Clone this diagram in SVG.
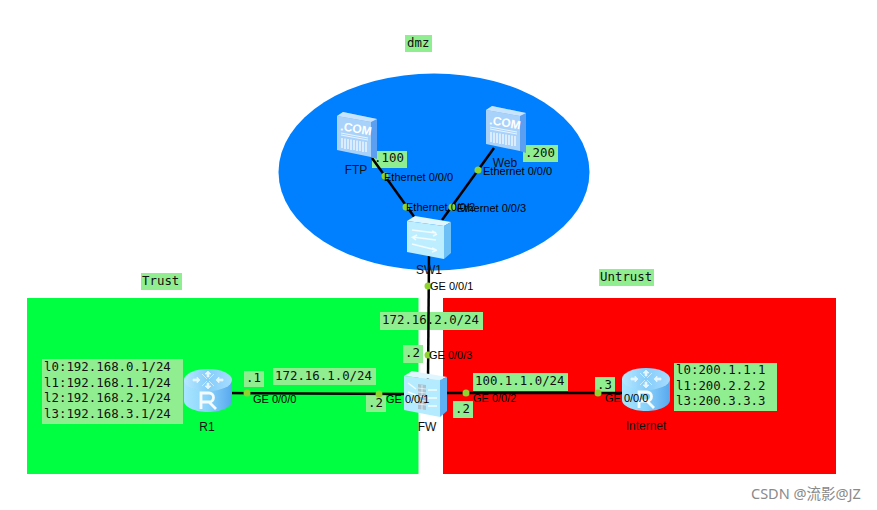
<svg xmlns="http://www.w3.org/2000/svg" width="877" height="510" viewBox="0 0 877 510">
<style>
.lb{fill:#90ee90}
.m{font-family:"DejaVu Sans Mono","Liberation Mono",monospace;font-size:12.400px;fill:#111}
.t{font-family:"Liberation Sans",Arial,sans-serif;font-size:11px;fill:#000}
.n{font-family:"Liberation Sans",Arial,sans-serif;font-size:12px;fill:#111;text-anchor:middle}
.c{stroke:#000;stroke-width:2.500;fill:none}
.d{fill:#8fd32f}
</style>
<defs>
<linearGradient id="rt" x1="0" y1="0" x2="1" y2="0"><stop offset="0" stop-color="#b8e8ff"/><stop offset=".5" stop-color="#86cdfb"/><stop offset="1" stop-color="#a6dcff"/></linearGradient>
<linearGradient id="rb" x1="0" y1="0" x2="1" y2="0"><stop offset="0" stop-color="#a8e6ff"/><stop offset=".5" stop-color="#8ad2fb"/><stop offset="1" stop-color="#58a8ee"/></linearGradient>
<g id="router">
<path d="M0 11V32C0 38 11 43 24 43S48 38 48 32V11Z" fill="url(#rb)"/>
<ellipse cx="24" cy="11" rx="24" ry="11" fill="url(#rt)"/>
<path d="M24 2l-3 3h2v3h2V5h2ZM24 20l-3-3h2v-3h2v3h2ZM13 8l3 3-3 3v-2H9v-2h4ZM35 8l-3 3 3 3v-2h4v-2h-4ZM18 5l5 5M30 5l-5 5M18 17l5-5M30 17l-5-5" fill="#e6f6ff" stroke="#e6f6ff" stroke-width=".7"/>
<path d="M17 40V24h8a4.500 4.500 0 0 1 0 9H17M25 33l7 7" stroke="#f4fbff" stroke-width="2.800" fill="none"/>
</g>
<g id="server">
<path d="M0 4L6 0L40 7V47L34 45Z" fill="#5a9ff2"/>
<path d="M0 4L34 10V45L0 38Z" fill="#a9d2fb"/>
<path d="M0 4L6 0L40 7L34 10Z" fill="#c8e4fd"/>
<path d="M4 21L31 26M4 23L31 28" stroke="#eaf5ff" stroke-width="1"/>
<path d="M5 26V36M8 26.500V37M11 27V37M14 27.500V38M17 28V38M20 28.500V39M23 29V39M26 29.500V40M29 30V40" stroke="#eaf5ff" stroke-width="1.500"/>
<text x="3" y="18" transform="rotate(10 3 18)" font-family="Liberation Sans,sans-serif" font-size="12" font-weight="700" fill="#fff">.COM</text>
</g>
</defs>
<rect width="877" height="510" fill="#fff"/>
<ellipse cx="434" cy="172" rx="155.500" ry="98.500" fill="#0080ff"/>
<rect x="27" y="298" width="391.500" height="176" fill="#00ff40"/>
<rect x="443" y="298" width="393" height="176" fill="#ff0000"/>

<g id="zone-labels">
<rect class="lb" x="405" y="35" width="27" height="17"/><text class="m" x="407" y="47">dmz</text>
<rect class="lb" x="141" y="273" width="41" height="17"/><text class="m" x="142" y="285">Trust</text>
<rect class="lb" x="599" y="269" width="55" height="17"/><text class="m" x="600" y="281">Untrust</text>
</g>

<g id="address-labels">
<rect class="lb" x="372" y="151" width="35" height="17"/><text class="m" x="374" y="162">.100</text>
<rect class="lb" x="523" y="145" width="35" height="17"/><text class="m" x="525" y="157">.200</text>
<rect class="lb" x="380" y="312" width="103" height="18"/><text class="m" x="382" y="324">172.16.2.0/24</text>
<rect class="lb" x="403" y="345" width="20" height="18"/><text class="m" x="405" y="357">.2</text>
<rect class="lb" x="244" y="371" width="20" height="16"/><text class="m" x="246" y="382">.1</text>
<rect class="lb" x="273" y="368" width="103" height="17"/><text class="m" x="275" y="380">172.16.1.0/24</text>
<rect class="lb" x="366" y="394" width="20" height="18"/><text class="m" x="368" y="407">.2</text>
<rect class="lb" x="473" y="373" width="95" height="18"/><text class="m" x="475" y="385">100.1.1.0/24</text>
<rect class="lb" x="453" y="401" width="20" height="17"/><text class="m" x="455" y="413">.2</text>
<rect class="lb" x="595" y="377" width="20" height="16"/><text class="m" x="597" y="389">.3</text>
<rect class="lb" x="42" y="359" width="141" height="65"/>
<text class="m" x="44" y="371">l0:192.168.0.1/24</text>
<text class="m" x="44" y="387">l1:192.168.1.1/24</text>
<text class="m" x="44" y="402">l2:192.168.2.1/24</text>
<text class="m" x="44" y="418">l3:192.168.3.1/24</text>
<rect class="lb" x="674" y="363" width="103" height="48"/>
<text class="m" x="676" y="374">l0:200.1.1.1</text>
<text class="m" x="676" y="390">l1:200.2.2.2</text>
<text class="m" x="676" y="405">l3:200.3.3.3</text>
</g>

<g id="connectors">
<path class="c" d="M372 158L415 218"/>
<path class="c" d="M494 148L442 220"/>
<path class="c" d="M429 255L428 382"/>
<path class="c" d="M225 393L405 394"/>
<path class="c" d="M447 393L625 393"/>
<g class="d">
<circle cx="385" cy="176" r="3.500"/><circle cx="406" cy="207" r="3.500"/><circle cx="478" cy="170" r="3.500"/><circle cx="452" cy="207" r="3.500"/>
<circle cx="428" cy="286" r="3.500"/><circle cx="428" cy="355" r="3.500"/><circle cx="247" cy="393" r="3.500"/><circle cx="379" cy="394" r="3.500"/><circle cx="466" cy="393" r="3.500"/><circle cx="598" cy="393" r="3.500"/>
</g>
</g>

<g id="FTP"><use href="#server" x="337" y="112"/><text class="n" x="356" y="174">FTP</text></g>
<g id="Web"><use href="#server" x="486" y="106"/><text class="n" x="505" y="167">Web</text></g>
<g id="SW1">
<path d="M407 221L415 216L451 222L444 226Z" fill="#dff6ff"/>
<path d="M444 226L451 222V253L444 259Z" fill="#6cc0f6"/>
<path d="M407 221L444 226V259L407 252Z" fill="#bdeeff"/>
<path d="M412 230L436 233l-4-2M437 234l-4 2M436 240L413 237l4-2M412 237l4 3M412 244L436 250l-4-2M437 250l-5 2" stroke="#f2fbff" stroke-width="1.500" fill="none"/>
<text class="n" x="429" y="274">SW1</text>
</g>
<g id="FW">
<path d="M404 376L412 371L447 377L440 380Z" fill="#dff6ff"/>
<path d="M440 380L447 377V411L440 417Z" fill="#5fb0f3"/>
<path d="M404 376L440 380V417L404 410Z" fill="#b5ebff"/>
<path d="M418 384L426 385V410L418 409Z" fill="#a9c2d2"/>
<path d="M418 388l8 1M418 392l8 1M418 396l8 1M418 400l8 1M418 404l8 1M422 385V410" stroke="#e9f5fb" stroke-width=".8"/>
<path d="M408 383L416 389M408 392L416 395M408 401L416 402M428 390L437 390M428 398L437 398M428 406L437 406" stroke="#f2fbff" stroke-width="1.500"/>
<text class="n" x="427" y="431">FW</text>
</g>
<g id="R1"><use href="#router" x="184" y="369"/><text class="n" x="207" y="431">R1</text></g>
<g id="Internet"><use href="#router" x="622" y="368"/><text class="n" x="646" y="430">Internet</text></g>

<g id="interface-labels">
<text class="t" x="384" y="181">Ethernet 0/0/0</text>
<text class="t" x="483" y="175">Ethernet 0/0/0</text>
<text class="t" x="406" y="211">Ethernet 0/0/2</text>
<text class="t" x="457" y="212">Ethernet 0/0/3</text>
<text class="t" x="430" y="290">GE 0/0/1</text>
<text class="t" x="429" y="359">GE 0/0/3</text>
<text class="t" x="253" y="403">GE 0/0/0</text>
<text class="t" x="386" y="403">GE 0/0/1</text>
<text class="t" x="473" y="402">GE 0/0/2</text>
<text class="t" x="605" y="402">GE 0/0/0</text>
</g>
<text x="751" y="499" font-family="'Noto Sans','Noto Sans CJK SC',sans-serif" font-size="14.500" fill="#8a8a8a">CSDN @流影@JZ</text>
</svg>
